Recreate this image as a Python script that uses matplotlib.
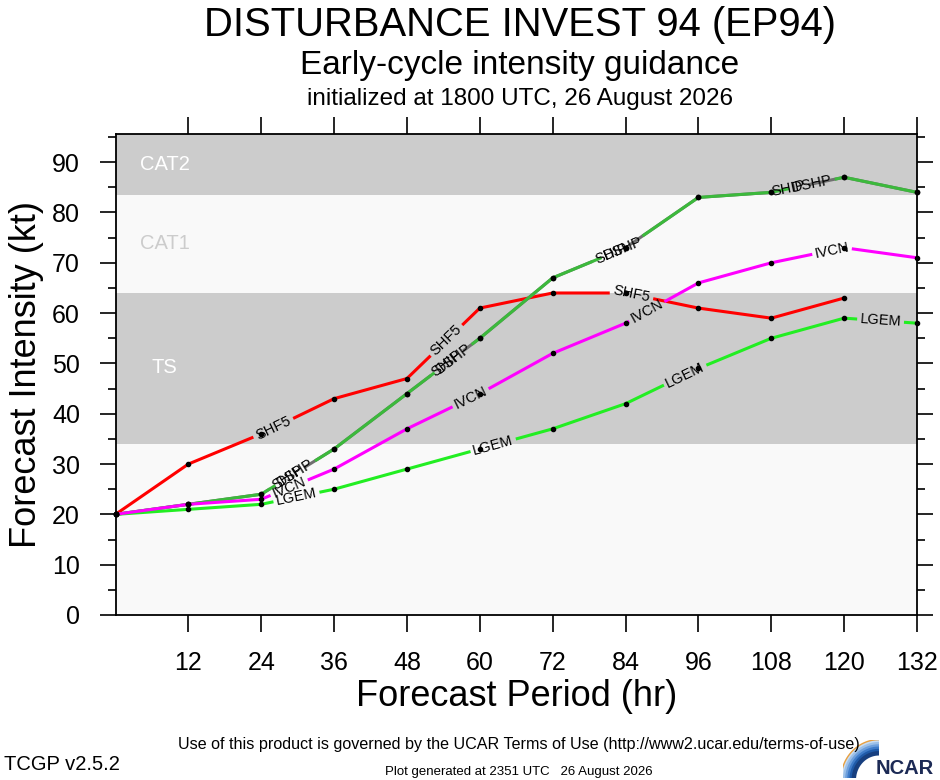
import matplotlib
matplotlib.use("Agg")
import matplotlib.pyplot as plt
import numpy as np
from matplotlib.textpath import TextPath
from matplotlib.font_manager import FontProperties

plt.rcParams['font.family'] = 'Liberation Sans'

# forecast hours and model intensities (kt)
hours = [0, 12, 24, 36, 48, 60, 72, 84, 96, 108, 120, 132]
shf5 = [20, 30, 36, 43, 47, 61, 64, 64, 61, 59, 63]
ship = [20, 22, 24, 33, 44, 55, 67, 73, 83, 84, 87, 84]
dshp = [20, 22, 24, 33, 44, 55, 67, 73, 83, 84, 87, 84]
ivcn = [20, 22, 23, 29, 37, 44, 52, 58, 66, 70, 73, 71]
lgem = [20, 21, 22, 25, 29, 33, 37, 42, 49, 55, 59, 58]

# where the in-line labels sit (hours)
shf5_lab = [26, 54.5, 85]
ship_lab = [28.3, 54.6, 81.7, 110.8]
dshp_lab = [29.6, 55.6, 83.6, 114.7]
ivcn_lab = [28.6, 58.5, 87.5, 118]
lgem_lab = [29.8, 62.2, 93.8, 126]

bands = [(0, 34, '#f9f9f9'), (34, 64, '#cccccc'), (64, 83.5, '#f9f9f9'), (83.5, 100, '#cccccc')]
band_txt = [('CAT2', 89.6, 'white'), ('CAT1', 73.8, '#cccccc'), ('TS', 49.1, 'white')]

W, H = 940, 780
fig = plt.figure(figsize=(W / 100, H / 100), dpi=100)
ax = fig.add_axes([115.5 / W, 165 / H, (917 - 115.5) / W, (615 - 134) / H])
ax.set_xlim(0, 132)
ax.set_ylim(0, 95.6)
ax.set_facecolor('#f9f9f9')

for lo, hi, c in bands:
    ax.axhspan(lo, hi, color=c, lw=0, zorder=0)
for s, y, c in band_txt:
    ax.text(8.1, y, s, color=c, fontsize=14.5, ha='center', va='center', zorder=1)

LAB_FS = 10.5
fp = FontProperties(family='Liberation Sans', size=LAB_FS)


def draw_series(x, y, color, labels, name, z):
    x = np.asarray(x, float)
    y = np.asarray(y[:len(x)], float)
    x = x[:len(y)]
    pts = ax.transData.transform(np.column_stack([x, y]))
    d = np.diff(pts, axis=0)
    sl = np.hypot(d[:, 0], d[:, 1])
    cum = np.concatenate([[0], np.cumsum(sl)])

    def at(a):
        i = int(np.clip(np.searchsorted(cum, a) - 1, 0, len(sl) - 1))
        f = (a - cum[i]) / sl[i]
        return pts[i] + f * d[i], np.degrees(np.arctan2(d[i, 1], d[i, 0]))

    tw = TextPath((0, 0), name, prop=fp).get_extents().width * 100 / 72
    half = tw / 2 + 4
    gaps = []
    for t in labels:
        i = int(np.clip(np.searchsorted(x, t) - 1, 0, len(sl) - 1))
        a = cum[i] + (t - x[i]) / (x[i + 1] - x[i]) * sl[i]
        gaps.append((a - half, a + half))
        p, ang = at(a)
        px, py = ax.transData.inverted().transform(p)
        ax.text(px, py, name, fontsize=LAB_FS, rotation=ang, rotation_mode='anchor',
                ha='center', va='center', color='black', zorder=10)
    keep = []
    start = 0.0
    for g0, g1 in sorted(gaps):
        if g0 > start:
            keep.append((start, g0))
        start = max(start, g1)
    if start < cum[-1]:
        keep.append((start, cum[-1]))
    inv = ax.transData.inverted()
    for a0, a1 in keep:
        seg = [at(a0)[0]] + [pts[k] for k in range(len(cum)) if a0 < cum[k] < a1] + [at(a1)[0]]
        dd = inv.transform(np.array(seg))
        ax.plot(dd[:, 0], dd[:, 1], color=color, lw=2.2, zorder=z, clip_on=False,
                solid_capstyle='butt')
    ax.plot(x, y, 'o', color='black', ms=3.0, zorder=9, clip_on=False)


draw_series(hours, shf5, '#ff0000', shf5_lab, 'SHF5', 3)
draw_series(hours, ship, '#707070', ship_lab, 'SHIP', 4)
draw_series(hours, dshp, '#3cb93c', dshp_lab, 'DSHP', 5)
draw_series(hours, lgem, '#22ee22', lgem_lab, 'LGEM', 6)
draw_series(hours, ivcn, '#ff00ff', ivcn_lab, 'IVCN', 7)

ax.set_xticks(hours[1:])
ax.set_xticklabels([str(h) for h in hours[1:]])
ax.set_yticks(np.arange(0, 91, 10))
ax.set_yticks(np.arange(5, 96, 10), minor=True)
ax.tick_params(axis='x', which='major', direction='out', top=True, bottom=True,
               length=12, width=1.2, pad=14, labelsize=18)
ax.tick_params(axis='y', which='major', direction='out', left=True, right=True,
               length=11.5, width=1.2, pad=14, labelsize=18)
ax.tick_params(axis='y', which='minor', direction='out', left=True, right=True,
               length=5.5, width=1.2)
for sp in ax.spines.values():
    sp.set_linewidth(1.3)
    sp.set_zorder(12)

ax.set_xlabel('Forecast Period (hr)', fontsize=26, labelpad=3)
ax.set_ylabel('Forecast Intensity (kt)', fontsize=26, labelpad=6)

cx = 520 / W
fig.text(cx, 1 - 36 / H, 'DISTURBANCE INVEST 94 (EP94)', fontsize=28.8, ha='center', va='baseline')
fig.text(cx, 1 - 74 / H, 'Early-cycle intensity guidance', fontsize=24, ha='center', va='baseline')
fig.text(cx, 1 - 105 / H, 'initialized at 1800 UTC, 26 August 2026', fontsize=17.5,
         ha='center', va='baseline')

fig.text(519 / W, 1 - 745 / H,
         'Use of this product is governed by the UCAR Terms of Use (http://www2.ucar.edu/terms-of-use)',
         fontsize=11.6, ha='center', va='center')
fig.text(4 / W, 1 - 765 / H, 'TCGP v2.5.2', fontsize=14.5, ha='left', va='center')
fig.text(519 / W, 1 - 772 / H, 'Plot generated at 2351 UTC   26 August 2026', fontsize=9.5,
         ha='center', va='center')

# NCAR logo
lax = fig.add_axes([843 / W, 2 / H, 36 / W, 38 / H])
lax.set_xlim(0, 1)
lax.set_ylim(0, 1)
lax.axis('off')
th = np.linspace(np.pi, np.pi / 2, 60)
blues = ['#c9ddf2', '#9cc0e8', '#6d9fdc', '#3f7cc9', '#1f5aa8', '#173f7f']
for k, c in enumerate(blues):
    r = 1.0 - k * 0.06
    lax.plot(1 + r * np.cos(th), r * np.sin(th) - 0.05, color=c, lw=3.2, solid_capstyle='butt')
lax.plot(1 + 1.06 * np.cos(th), 1.06 * np.sin(th) - 0.05, color='#e8a040', lw=1.0)
fig.text(876 / W, 1.5 / H, 'NCAR', fontsize=14.5, fontweight='bold', color='#1c2a55',
         ha='left', va='bottom')

fig.savefig('out.png', dpi=100)
